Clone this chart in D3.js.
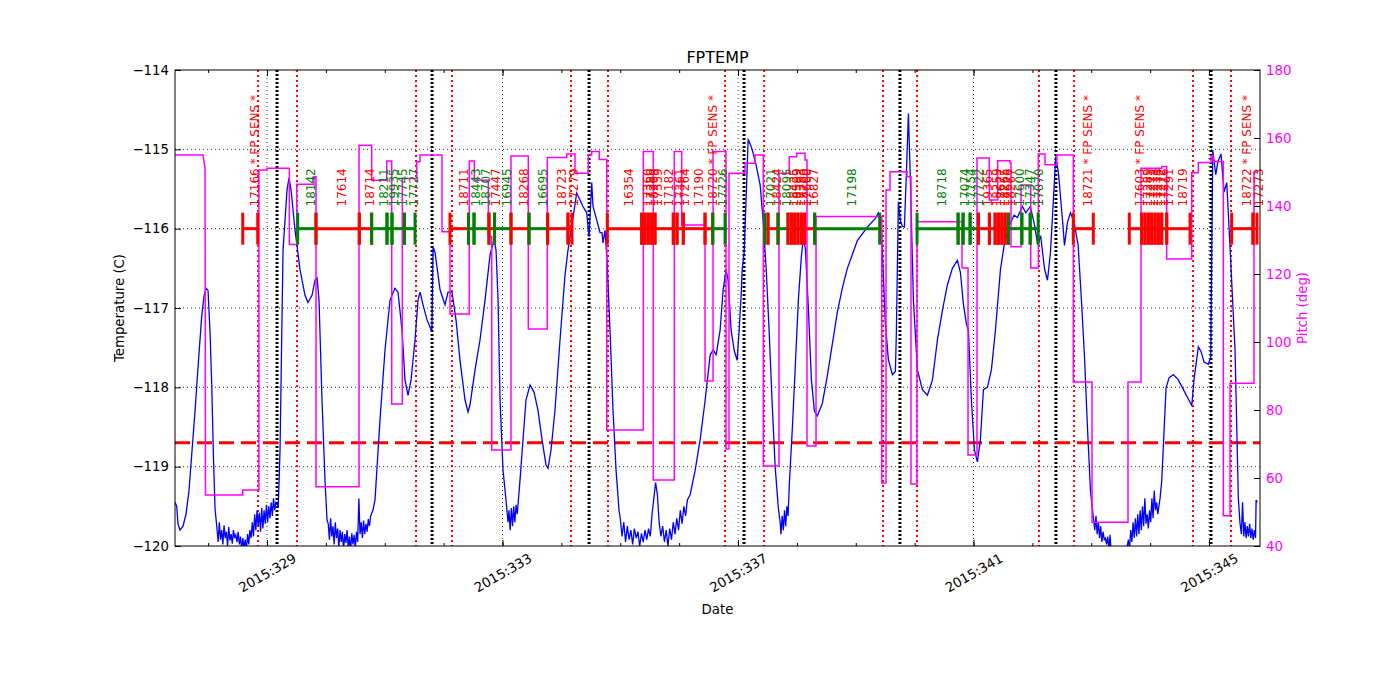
<!DOCTYPE html>
<html><head><meta charset="utf-8">
<script src="https://cdn.jsdelivr.net/npm/d3@7"></script>
<style>body{margin:0;background:#fff;} svg text{font-family:"DejaVu Sans",sans-serif;}</style>
</head><body><svg id="chart" width="1400" height="700"></svg>
<script>
// ---------- DATA (day of year 2015) ----------
const xDomain = [327.437, 345.866];
const xMajorDays = [329, 333, 337, 341, 345];
const xMajorLabels = ["2015:329", "2015:333", "2015:337", "2015:341", "2015:345"];
const xMinorDays = [328,329,330,331,332,333,334,335,336,337,338,339,340,341,342,343,344,345];
const tempTicks = [-114, -115, -116, -117, -118, -119, -120];
const tempTickLabels = ["\u2212114","\u2212115","\u2212116","\u2212117","\u2212118","\u2212119","\u2212120"];
const pitchTicks = [40, 60, 80, 100, 120, 140, 160, 180];
const tempLimit = -118.7;
const obsLevel = -116;

const radzoneStart = [328.848, 331.531, 334.163, 336.780, 339.463, 342.112, 344.729];
const perigee      = [329.170, 331.803, 334.470, 337.102, 339.750, 342.400, 345.034];
const radzoneEnd   = [329.510, 332.142, 334.792, 337.444, 340.041, 342.708, 345.374];

// [start, stop, obsid label, status]
const observations = [
 [328.588,328.842,"17166 * FP SENS *","hot"],
 [329.521,329.832,"18142","ok"],
 [329.832,330.567,"17614","hot"],
 [330.567,330.777,"18714","hot"],
 [330.777,331.038,"18211","ok"],
 [331.038,331.123,"19935","ok"],
 [331.123,331.335,"17745","ok"],
 [331.335,331.514,"17727","ok"],
 [332.108,332.422,"18711","hot"],
 [332.422,332.516,"18443","ok"],
 [332.516,332.770,"18707","ok"],
 [332.770,332.864,"17447","hot"],
 [332.864,333.144,"16945","ok"],
 [333.144,333.450,"18268","hot"],
 [333.450,333.767,"16695","ok"],
 [333.767,334.112,"18723","hot"],
 [334.112,334.180,"17279","hot"],
 [334.780,335.364,"16354","hot"],
 [335.364,335.420,"17360","hot"],
 [335.420,335.476,"17289","hot"],
 [335.476,335.534,"18269","hot"],
 [335.534,335.590,"17359","hot"],
 [335.590,335.901,"17182","hot"],
 [335.901,335.964,"17361","hot"],
 [335.964,336.071,"17264","hot"],
 [336.071,336.440,"17190","hot"],
 [336.440,336.571,"18720 * FP SENS *","hot"],
 [336.571,336.780,"17726","ok"],
 [337.453,337.509,"17021","ok"],
 [337.509,337.679,"18424","hot"],
 [337.679,337.849,"18095","ok"],
 [337.849,337.906,"18425","hot"],
 [337.906,337.962,"18599","hot"],
 [337.962,338.018,"17393","hot"],
 [338.018,338.076,"18700","hot"],
 [338.076,338.132,"17660","hot"],
 [338.132,338.302,"16827","hot"],
 [338.302,339.406,"17198","ok"],
 [340.041,340.738,"18718","ok"],
 [340.738,340.823,"17074","ok"],
 [340.823,340.942,"17754","ok"],
 [340.942,341.083,"17722","ok"],
 [341.083,341.270,"19365","hot"],
 [341.270,341.367,"18259","hot"],
 [341.367,341.423,"17677","hot"],
 [341.423,341.481,"18265","hot"],
 [341.481,341.537,"17676","hot"],
 [341.537,341.593,"18267","hot"],
 [341.593,341.821,"17600","ok"],
 [341.821,341.962,"17347","ok"],
 [341.962,342.098,"17070","ok"],
 [342.695,343.035,"18721 * FP SENS *","hot"],
 [343.646,343.857,"17603 * FP SENS *","hot"],
 [343.857,343.913,"17289","hot"],
 [343.913,343.969,"17271","hot"],
 [343.969,344.027,"17278","hot"],
 [344.027,344.083,"17274","hot"],
 [344.083,344.139,"17272","hot"],
 [344.139,344.197,"17276","hot"],
 [344.197,344.282,"17291","hot"],
 [344.282,344.678,"18719","hot"],
 [345.385,345.747,"18722 * FP SENS *","hot"],
 [345.747,345.815,"17273","hot"]
];

// FPTEMP [day, degC]
const fptemp = [
 [327.437,-119.45],[327.466,-119.50],[327.488,-119.72],[327.522,-119.80],[327.573,-119.75],[327.624,-119.60],[327.675,-119.30],[327.726,-118.80],[327.777,-118.30],[327.828,-117.75],[327.891,-117.10],[327.930,-116.85],[327.964,-116.75],[327.998,-116.78],[328.032,-117.30],[328.061,-117.97],[328.091,-118.90],[328.117,-119.53],
 [328.15,-119.78],[328.17,-119.95],[328.19,-119.70],[328.21,-119.92],[328.23,-119.80],[328.25,-119.98],[328.27,-119.74],[328.29,-119.90],[328.31,-119.82],[328.33,-120.00],[328.35,-119.76],[328.37,-119.93],[328.39,-119.85],[328.41,-119.97],[328.43,-119.80],[328.45,-119.90],[328.47,-119.86],[328.49,-119.95],[328.51,-119.82],[328.53,-119.98],[328.55,-119.88],[328.57,-120.05],[328.59,-119.90],[328.61,-120.02],[328.63,-119.92],[328.65,-120.05],[328.67,-119.85],[328.69,-119.98],[328.71,-119.80],[328.73,-119.90],[328.75,-119.70],[328.77,-119.88],[328.79,-119.60],[328.81,-119.80],[328.83,-119.55],[328.85,-119.75],[328.87,-119.58],[328.89,-119.82],[328.91,-119.52],[328.93,-119.78],[328.95,-119.55],[328.97,-119.72],[328.99,-119.48],[329.01,-119.70],[329.03,-119.50],[329.05,-119.65],[329.07,-119.45],[329.09,-119.62],[329.11,-119.40],[329.13,-119.55],[329.15,-119.45],
 [329.19,-119.50],[329.204,-119.20],[329.221,-118.79],[329.272,-116.27],[329.340,-115.51],[329.374,-115.36],[329.408,-115.51],[329.476,-116.02],[329.561,-116.52],[329.645,-116.84],[329.696,-116.93],[329.764,-116.84],[329.815,-116.65],[329.849,-116.62],[329.883,-116.90],[329.934,-118.16],[329.985,-119.17],[330.019,-119.67],
 [330.04,-119.72],[330.06,-119.92],[330.08,-119.65],[330.10,-119.88],[330.12,-119.75],[330.14,-119.98],[330.16,-119.70],[330.18,-119.90],[330.20,-119.78],[330.22,-120.02],[330.24,-119.80],[330.26,-119.95],[330.28,-119.82],[330.30,-120.05],[330.32,-119.85],[330.34,-119.96],[330.36,-119.80],[330.38,-120.04],[330.40,-119.88],[330.42,-120.05],[330.44,-119.84],[330.46,-119.98],[330.48,-119.86],[330.50,-120.03],[330.52,-119.82],[330.54,-119.95],[330.56,-119.40],[330.58,-119.85],[330.60,-119.70],[330.62,-119.90],[330.64,-119.68],[330.66,-119.85],[330.68,-119.72],[330.70,-119.82],[330.72,-119.66],[330.74,-119.75],[330.76,-119.62],
 [330.80,-119.55],[330.834,-119.42],[330.919,-118.41],[331.004,-117.53],[331.089,-116.90],[331.174,-116.75],[331.225,-116.80],[331.293,-117.28],[331.344,-117.91],[331.395,-118.10],[331.446,-117.91],[331.514,-117.40],[331.565,-116.90],[331.599,-116.80],[331.650,-116.96],[331.718,-117.15],[331.800,-117.30],[331.820,-116.23],[331.854,-116.30],[331.939,-116.77],[332.023,-116.96],[332.074,-116.80],[332.142,-116.80],[332.210,-117.15],[332.278,-117.66],[332.363,-118.16],[332.414,-118.31],[332.448,-118.22],[332.533,-117.78],[332.618,-117.40],[332.703,-116.90],[332.788,-116.33],[332.856,-116.14],[332.890,-116.27],[332.924,-116.90],[332.958,-118.16],[333.008,-119.04],[333.059,-119.42],[333.093,-119.70],
 [333.11,-119.55],[333.13,-119.80],[333.15,-119.52],[333.17,-119.75],[333.19,-119.50],[333.21,-119.70],[333.23,-119.48],[333.25,-119.60],
 [333.297,-119.17],[333.348,-118.66],[333.399,-118.16],[333.467,-117.97],[333.535,-118.06],[333.603,-118.29],[333.671,-118.66],[333.739,-118.98],[333.773,-119.02],[333.824,-118.79],[333.892,-118.28],[333.977,-117.40],[334.062,-116.58],[334.112,-116.27],[334.180,-115.95],[334.260,-115.55],[334.367,-115.72],[334.430,-115.80],[334.469,-116.10],[334.515,-115.42],[334.537,-115.72],[334.600,-115.89],[334.656,-116.05],[334.690,-116.05],[334.707,-116.18],[334.741,-116.02],[334.775,-116.40],[334.826,-117.28],[334.877,-118.29],[334.928,-119.04],[334.979,-119.55],
 [335.00,-119.65],[335.03,-119.88],[335.06,-119.70],[335.09,-119.95],[335.12,-119.75],[335.15,-119.92],[335.18,-119.80],[335.21,-119.98],[335.24,-119.78],[335.27,-119.90],[335.30,-119.82],[335.33,-120.00],[335.36,-119.84],[335.39,-119.95],[335.42,-119.80],[335.45,-119.92],[335.48,-119.78],[335.51,-119.88],[335.54,-119.60],[335.57,-119.40],[335.60,-119.20],[335.63,-119.35],[335.66,-119.70],[335.69,-119.88],[335.72,-119.75],[335.75,-119.95],[335.78,-119.80],[335.81,-120.00],[335.84,-119.78],[335.87,-119.92],[335.90,-119.70],[335.93,-119.85],[335.96,-119.65],[335.99,-119.80],[336.02,-119.55],[336.05,-119.72],[336.08,-119.50],[336.11,-119.62],[336.14,-119.42],
 [336.188,-119.35],[336.273,-119.04],[336.357,-118.66],[336.442,-118.16],[336.527,-117.59],[336.578,-117.53],[336.629,-117.59],[336.696,-117.28],[336.747,-116.77],[336.798,-116.52],[336.832,-116.65],[336.883,-117.28],[336.934,-117.53],[336.985,-117.66],[337.019,-117.28],[337.053,-116.84],[337.070,-116.52],[337.104,-116.30],[337.138,-115.60],[337.172,-114.88],[337.189,-114.90],[337.240,-115.00],[337.308,-115.20],[337.376,-115.45],[337.427,-115.90],[337.478,-116.50],[337.529,-117.30],[337.580,-118.20],[337.631,-119.00],[337.682,-119.50],[337.715,-119.70],
 [337.73,-119.85],[337.75,-119.62],[337.77,-119.80],[337.79,-119.55],[337.81,-119.75],[337.83,-119.50],[337.85,-119.62],
 [337.873,-119.20],[337.924,-118.50],[337.975,-117.70],[338.025,-116.90],[338.076,-116.35],[338.110,-116.12],[338.144,-116.25],[338.195,-117.00],[338.246,-117.90],[338.297,-118.30],[338.348,-118.36],[338.433,-118.20],[338.518,-117.85],[338.603,-117.45],[338.688,-117.05],[338.772,-116.75],[338.857,-116.50],[339.027,-116.15],[339.197,-115.98],[339.333,-115.87],[339.384,-115.80],[339.435,-116.00],[339.469,-116.60],[339.503,-117.20],[339.554,-117.65],[339.622,-117.84],[339.673,-117.80],[339.690,-117.30],[339.724,-115.66],[339.758,-115.90],[339.792,-115.97],[339.826,-115.98],[339.860,-115.30],[339.894,-114.55],[339.928,-115.39],[339.979,-116.90],[340.047,-117.78],[340.132,-118.03],[340.217,-118.10],[340.302,-117.91],[340.387,-117.40],[340.472,-117.03],[340.556,-116.71],[340.641,-116.50],[340.726,-116.40],[340.777,-116.55],[340.828,-116.95],[340.879,-117.20],[340.913,-117.28],[340.964,-118.16],[341.015,-118.79],[341.066,-118.94],[341.117,-118.66],[341.168,-118.03],[341.236,-118.00],[341.304,-117.78],[341.372,-117.28],[341.457,-116.52],[341.520,-116.21],[341.605,-115.96],[341.690,-115.83],[341.746,-115.86],[341.831,-115.72],[341.887,-115.80],[341.966,-115.72],[342.029,-115.93],[342.086,-116.18],[342.142,-116.10],[342.205,-116.50],[342.256,-116.65],[342.307,-116.30],[342.341,-115.85],[342.397,-115.09],[342.443,-115.30],[342.511,-115.89],[342.545,-116.21],[342.596,-115.92],[342.647,-115.80],[342.709,-115.92],[342.777,-116.21],[342.833,-116.90],[342.884,-117.60],[342.935,-118.50],[342.986,-119.30],[343.037,-119.65],
 [343.06,-119.80],[343.08,-119.62],[343.10,-119.85],[343.12,-119.70],[343.14,-119.90],[343.16,-119.75],[343.18,-119.95],[343.20,-119.82],[343.22,-119.92],[343.24,-119.90],[343.26,-119.98],[343.28,-119.88],[343.30,-120.05],[343.32,-119.86],[343.34,-120.10],[343.37,-120.20],[343.42,-120.30],[343.50,-120.30],[343.56,-120.20],[343.60,-120.05],[343.63,-119.92],[343.65,-120.05],[343.67,-119.80],[343.69,-119.95],[343.71,-119.70],[343.73,-119.90],[343.75,-119.65],[343.77,-119.88],[343.79,-119.60],[343.81,-119.85],[343.83,-119.55],[343.85,-119.80],[343.87,-119.50],[343.89,-119.75],[343.91,-119.40],[343.93,-119.72],[343.95,-119.60],[343.97,-119.78],[343.99,-119.55],[344.01,-119.70],[344.03,-119.40],[344.05,-119.65],[344.07,-119.30],[344.09,-119.55],[344.11,-119.45],[344.13,-119.60],
 [344.168,-119.40],[344.197,-119.18],[344.227,-118.70],[344.270,-118.01],[344.321,-117.88],[344.394,-117.84],[344.474,-117.90],[344.559,-118.02],[344.644,-118.14],[344.707,-118.23],[344.746,-117.90],[344.819,-117.49],[344.865,-117.55],[344.916,-117.68],[344.989,-117.71],[345.029,-117.62],[345.063,-115.01],[345.114,-115.32],[345.153,-115.15],[345.204,-115.06],[345.255,-115.54],[345.301,-115.42],[345.357,-116.23],[345.442,-117.53],[345.498,-119.40],[345.526,-119.71],
 [345.55,-119.85],[345.57,-119.45],[345.59,-119.88],[345.61,-119.70],[345.63,-119.90],[345.65,-119.75],[345.67,-119.88],[345.69,-119.72],[345.71,-119.90],[345.73,-119.78],[345.75,-119.92],[345.77,-119.80],[345.79,-119.90],[345.80,-119.42],[345.82,-119.45]
];

// Pitch [day, deg] (step changes)
const pitch = [
 [327.437,155],[327.913,155],[327.947,151],[327.955,55],[328.588,55],[328.588,56.5],[328.862,56.5],[328.862,150.6],[328.998,150.6],[328.998,151.1],[329.379,151.1],[329.379,128.7],[329.505,128.7],[329.505,146.4],[329.798,146.4],[329.798,148.6],[329.832,148.6],[329.832,57.4],
 [330.563,57.4],[330.563,157.9],[330.778,157.9],[330.778,147.6],[331.033,147.6],[331.033,153.2],[331.118,153.2],[331.118,81.8],[331.298,81.8],[331.298,148.1],[331.543,148.1],[331.543,153],[331.599,153],[331.599,155],[331.972,155],[331.972,132.4],[332.108,132.4],[332.108,108.2],
 [332.436,108.2],[332.436,153.2],[332.521,153.2],[332.521,147.6],[332.759,147.6],[332.759,131],[332.817,131],[332.817,68.2],[333.144,68.2],[333.144,154.7],[333.438,154.7],[333.438,103.8],[333.761,103.8],[333.761,154.3],[334.090,154.3],[334.090,155.3],[334.231,155.3],[334.231,149.6],[334.457,149.6],[334.457,155],[334.515,155],[334.515,156],[334.644,156],[334.644,153.7],[334.770,153.7],[334.770,74.1],
 [335.392,74.1],[335.392,156],[335.561,156],[335.561,59.4],[335.918,59.4],[335.918,156],[336.044,156],[336.044,134.4],[336.440,134.4],[336.440,88.5],[336.576,88.5],[336.576,156],[336.796,156],[336.796,68.5],[336.847,68.5],[336.847,149.6],[337.119,149.6],[337.119,152.6],[337.289,152.6],[337.289,155],[337.430,155],[337.430,63.5],
 [337.696,63.5],[337.696,149.6],[337.871,149.6],[337.871,154.5],[337.997,154.5],[337.997,155.5],[338.138,155.5],[338.138,153.5],[338.172,153.5],[338.172,69.4],[338.325,69.4],[338.325,136.9],[339.441,136.9],[339.441,58.5],[339.514,58.5],[339.514,144.7],[339.582,144.7],[339.582,150.1],[339.870,150.1],[339.870,148.6],[339.938,148.6],[339.938,58.2],
 [340.040,58.2],[340.040,135.4],[340.805,135.4],[340.805,121.8],[340.907,121.8],[340.907,66.8],[341.059,66.8],[341.059,154.1],[341.268,154.1],[341.268,141.8],[341.411,141.8],[341.411,153.3],[341.620,153.3],[341.620,152.7],[341.637,152.7],[341.637,128],[341.807,128],[341.807,146.2],[341.972,146.2],[341.972,121.8],[342.101,121.8],[342.101,155.3],[342.214,155.3],[342.214,152.1],[342.413,152.1],[342.413,155],[342.695,155],[342.695,88.2],
 [343.013,88.2],[343.013,47],[343.624,47],[343.624,88.2],[343.845,88.2],[343.845,151.1],[344.197,151.1],[344.197,151.6],[344.281,151.6],[344.281,124.4],[344.706,124.4],[344.706,149.8],[344.818,149.8],[344.818,152.8],[345.034,152.8],[345.034,154.8],[345.068,154.8],[345.068,153.1],[345.243,153.1],[345.243,48.9],[345.357,48.9],[345.357,87.9],[345.764,87.9],[345.764,149.9],[345.820,149.9]
];

// ---------- DRAWING ----------
const L = 175, R = 1260, T = 70, B = 546;
const RED = "#ff0000", GREEN = "#008000", MAG = "#ff00ff", BLUE = "#0000ff";
const statusColor = {hot: RED, ok: GREEN};

const svg = d3.select("#chart");
svg.append("rect").attr("width",1400).attr("height",700).attr("fill","#fff");

const x = d3.scaleLinear().domain(xDomain).range([L, R]);
const yT = d3.scaleLinear().domain([-120, -114]).range([B, T]);
const yP = d3.scaleLinear().domain([40, 180]).range([B, T]);

svg.append("defs").append("clipPath").attr("id","plotclip")
  .append("rect").attr("x",L).attr("y",T).attr("width",R-L).attr("height",B-T);

const plot = svg.append("g").attr("clip-path","url(#plotclip)");

// grid
plot.selectAll("line.hgrid").data(tempTicks.slice(1,-1)).enter().append("line")
  .attr("x1",L).attr("x2",R).attr("y1",d=>yT(d)).attr("y2",d=>yT(d))
  .attr("stroke","#000").attr("stroke-width",0.8).attr("stroke-dasharray","1,3");
plot.selectAll("line.vgrid").data(xMajorDays).enter().append("line")
  .attr("x1",d=>x(d)).attr("x2",d=>x(d)).attr("y1",T).attr("y2",B)
  .attr("stroke","#000").attr("stroke-width",0.8).attr("stroke-dasharray","1,3");

// radiation zone / perigee markers
const vline = (arr, color, w, dash) => plot.append("g").selectAll("line").data(arr).enter().append("line")
  .attr("x1",d=>x(d)).attr("x2",d=>x(d)).attr("y1",T).attr("y2",B)
  .attr("stroke",color).attr("stroke-width",w).attr("stroke-dasharray",dash);
vline(radzoneStart, RED, 2, "2,3");
vline(radzoneEnd, RED, 2, "2,3");
vline(perigee, "#000", 3, "2,2");

// limit line
plot.append("line").attr("x1",L).attr("x2",R).attr("y1",yT(tempLimit)).attr("y2",yT(tempLimit))
  .attr("stroke",RED).attr("stroke-width",3).attr("stroke-dasharray","15,7");

// temperature
plot.append("path").datum(fptemp)
  .attr("d", d3.line().x(d=>x(d[0])).y(d=>yT(d[1])))
  .attr("fill","none").attr("stroke",BLUE).attr("stroke-width",1.3);

// observations
const og = svg.append("g");
observations.forEach(o => {
  const c = statusColor[o[3]];
  const x1 = x(o[0]), x2 = x(o[1]), yy = yT(obsLevel);
  og.append("line").attr("x1",x1).attr("x2",x2).attr("y1",yy).attr("y2",yy).attr("stroke",c).attr("stroke-width",3);
  [x1,x2].forEach(xx => og.append("line").attr("x1",xx).attr("x2",xx).attr("y1",yy-16).attr("y2",yy+16).attr("stroke",c).attr("stroke-width",3));
  og.append("text").attr("transform",`translate(${(x1+x2)/2},${yT(-115.72)}) rotate(-90)`)
    .attr("dy","0.7em").attr("font-size","12px").attr("fill",c).text(o[2]);
});

// pitch
plot.append("path").datum(pitch)
  .attr("d", d3.line().x(d=>x(d[0])).y(d=>yP(d[1])))
  .attr("fill","none").attr("stroke",MAG).attr("stroke-width",1.5);

// frame
svg.append("rect").attr("x",L).attr("y",T).attr("width",R-L).attr("height",B-T)
  .attr("fill","none").attr("stroke","#000").attr("stroke-width",1);

// axes
function styleAxis(g, color){
  g.select(".domain").remove();
  g.selectAll(".tick line").attr("stroke","#000");
  g.selectAll("text").attr("font-size","13.3px").attr("font-family","DejaVu Sans, sans-serif").attr("fill",color);
}
const gB = svg.append("g").attr("transform",`translate(0,${B})`)
  .call(d3.axisBottom(x).tickValues(xMajorDays).tickSize(-6).tickFormat((d,i)=>xMajorLabels[i]));
styleAxis(gB,"#000");
gB.selectAll("text").attr("y",null).attr("dy",null)
  .attr("transform","translate(0,27) rotate(-30)").attr("text-anchor","middle").attr("dominant-baseline","central");
const gBm = svg.append("g").attr("transform",`translate(0,${B})`)
  .call(d3.axisBottom(x).tickValues(xMinorDays).tickSize(-3).tickFormat(""));
styleAxis(gBm,"#000");
const gTm = svg.append("g").attr("transform",`translate(0,${T})`)
  .call(d3.axisTop(x).tickValues(xMinorDays).tickSize(-3).tickFormat(""));
styleAxis(gTm,"#000");
const gTM = svg.append("g").attr("transform",`translate(0,${T})`)
  .call(d3.axisTop(x).tickValues(xMajorDays).tickSize(-6).tickFormat(""));
styleAxis(gTM,"#000");

const gL = svg.append("g").attr("transform",`translate(${L},0)`)
  .call(d3.axisLeft(yT).tickValues(tempTicks).tickSize(-6).tickPadding(6).tickFormat((d,i)=>tempTickLabels[i]));
styleAxis(gL,"#000");
const gR = svg.append("g").attr("transform",`translate(${R},0)`)
  .call(d3.axisRight(yP).tickValues(pitchTicks).tickSize(-6).tickPadding(6).tickFormat(d3.format("d")));
styleAxis(gR,MAG);

// labels
svg.append("text").attr("x",(L+R)/2).attr("y",T-7).attr("text-anchor","middle")
  .attr("font-size","16px").attr("fill","#000").text("FPTEMP");
svg.append("text").attr("x",(L+R)/2).attr("y",614).attr("text-anchor","middle")
  .attr("font-size","13.3px").attr("fill","#000").text("Date");
svg.append("text").attr("transform",`translate(124,${(T+B)/2}) rotate(-90)`).attr("text-anchor","middle")
  .attr("font-size","13.3px").attr("fill","#000").text("Temperature (C)");
svg.append("text").attr("transform",`translate(1307,${(T+B)/2}) rotate(-90)`).attr("text-anchor","middle")
  .attr("font-size","13.3px").attr("fill",MAG).text("Pitch (deg)");
</script></body></html>
